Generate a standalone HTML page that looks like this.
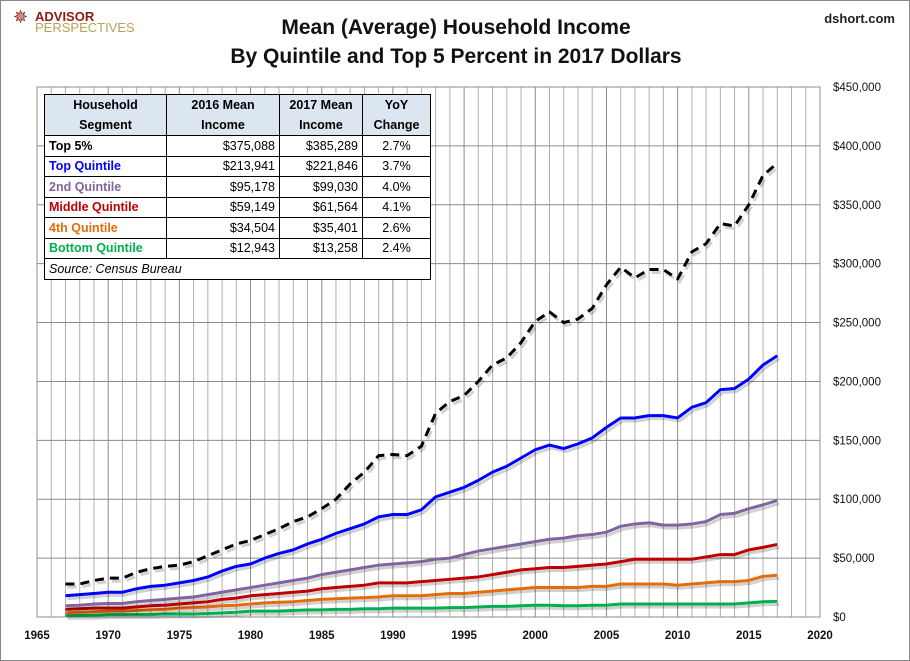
<!DOCTYPE html>
<html><head><meta charset="utf-8"><style>
body{margin:0;background:#fff;font-family:"Liberation Sans",sans-serif}
#wrap{position:relative;width:908px;height:659px;border:1px solid #888;overflow:hidden}
#title{position:absolute;left:200px;width:510px;top:12px;text-align:center;font-weight:bold;font-size:21px;line-height:29px;color:#111}
#logo{position:absolute;left:12px;top:10px;font-size:13px;line-height:12px}
#dshort{position:absolute;right:14px;top:10px;font-weight:bold;font-size:13px;color:#222}
table{position:absolute;left:43px;top:93px;border-collapse:collapse;font-size:12.5px;background:#fff}
td{border:1px solid #000;padding:0 4px;height:19.5px;white-space:nowrap}
th{background:#dce6f1;border:1px solid #000;font-weight:bold;font-size:12.5px;line-height:20px;padding:0 4px}
td.r{text-align:right}td.c{text-align:center}
</style></head><body>
<div id="wrap">
<div id="logo"><span style="color:#8b1a1a;font-size:18px">✵</span><span style="position:absolute;left:22px;top:0;color:#8b1a1a;font-weight:bold">ADVISOR</span><span style="position:absolute;left:22px;top:11px;color:#b8a15a">PERSPECTIVES</span></div>
<div id="title">Mean (Average) Household Income<br>By Quintile and Top 5 Percent in 2017 Dollars</div>
<div id="dshort">dshort.com</div>
<svg id="svg" width="910" height="661" style="position:absolute;left:0;top:0"></svg>
<table>
<tr><th style="width:113px">Household<br>Segment</th><th style="width:104px">2016 Mean<br>Income</th><th style="width:74px">2017 Mean<br>Income</th><th style="width:59px">YoY<br>Change</th></tr>
<tr><td style="font-weight:bold">Top 5%</td><td class="r">$375,088</td><td class="r">$385,289</td><td class="c">2.7%</td></tr>
<tr><td style="font-weight:bold;color:#0000ff">Top Quintile</td><td class="r">$213,941</td><td class="r">$221,846</td><td class="c">3.7%</td></tr>
<tr><td style="font-weight:bold;color:#8064a2">2nd Quintile</td><td class="r">$95,178</td><td class="r">$99,030</td><td class="c">4.0%</td></tr>
<tr><td style="font-weight:bold;color:#c00000">Middle Quintile</td><td class="r">$59,149</td><td class="r">$61,564</td><td class="c">4.1%</td></tr>
<tr><td style="font-weight:bold;color:#e46c0a">4th Quintile</td><td class="r">$34,504</td><td class="r">$35,401</td><td class="c">2.6%</td></tr>
<tr><td style="font-weight:bold;color:#00b050">Bottom Quintile</td><td class="r">$12,943</td><td class="r">$13,258</td><td class="c">2.4%</td></tr>
<tr><td colspan="4" style="font-style:italic">Source: Census Bureau</td></tr>
</table>
</div>
<script>
const years=[];for(let y=1967;y<=2017;y++)years.push(y);
const top5=[28,28,31,33,33,38,41,43,44,47,52,57,62,65,70,75,81,85,92,100,113,123,137,138,137,145,173,183,188,200,214,220,233,251,259,250,253,262,282,297,288,295,295,287,310,317,334,332,350,375,385.3];
const topQ=[18,19,20,21,21,24,26,27,29,31,34,39,43,45,50,54,57,62,66,71,75,79,85,87,87,91,102,106,110,116,123,128,135,142,146,143,147,152,161,169,169,171,171,169,178,182,193,194,202,214,221.8];
const q2=[9.5,10,11,11.5,11.5,13,14,15,16,17,19,21,23,25,27,29,31,33,36,38,40,42,44,45,46,47,49,50,53,56,58,60,62,64,66,67,69,70,72,77,79,80,78,78,79,81,87,88,92,95.2,99];
const mid=[6.5,7,7.5,7.5,7.5,8.5,9.5,10,11,12,13,15,16,18,19,20,21,22,24,25,26,27,29,29,29,30,31,32,33,34,36,38,40,41,42,42,43,44,45,47,49,49,49,49,49,51,53,53,57,59.1,61.6];
const q4=[3.5,4,4.5,5,5,5.5,6,6.5,7.5,8,8.5,9.5,10,11,12,12.5,13,14,15,15.5,16,16.5,17,18,18,18,19,20,20,21,22,23,24,25,25,25,25,26,26,28,28,28,28,27,28,29,30,30,31,34.5,35.4];
const bot=[1.5,1.5,1.5,2,2,2,2,2.5,2.5,2.5,3,3.5,4,5,5,5,5.5,6,6,6.5,6.5,7,7,7.5,7.5,7.5,7.5,8,8,8.5,9,9,9.5,10,10,9.5,9.5,10,10,11,11,11,11,11,11,11,11,11,12,12.9,13.3];
const yTicks=[0,50,100,150,200,250,300,350,400,450];
const xTicks=[1965,1970,1975,1980,1985,1990,1995,2000,2005,2010,2015,2020];
const X0=36,X1=819,Y0=616,Y1=86;
const xs=y=>X0+(y-1965)*(X1-X0)/55, ys=v=>Y0-v*(Y0-Y1)/450;
const svg=document.getElementById('svg'),NS='http://www.w3.org/2000/svg';
function mk(t,a,p){const e=document.createElementNS(NS,t);for(const k in a)e.setAttribute(k,a[k]);(p||svg).appendChild(e);return e;}
const g=mk('g',{});


for(let y=1965;y<=2020;y++){mk('line',{x1:xs(y),x2:xs(y),y1:Y1,y2:Y0,stroke:y%5==0?'#8c8c8c':'#b0b0b0','stroke-width':1},g);}
yTicks.forEach(v=>{mk('line',{x1:X0,x2:X1,y1:ys(v),y2:ys(v),stroke:'#8c8c8c','stroke-width':1},g);
const t=mk('text',{x:832,y:ys(v)+4,'font-size':'11.5',fill:'#111'});t.textContent='$'+(v?v+',000':'0');

});
mk('rect',{x:X0,y:Y1,width:X1-X0,height:Y0-Y1,fill:'none',stroke:'#8c8c8c'});
xTicks.forEach(y=>{const t=mk('text',{x:xs(y),y:638,'font-size':'11.5','font-weight':'bold','text-anchor':'middle',fill:'#111'});t.textContent=y;

});
const series=[[bot,'#00b050','bottom-quintile-line'],[q4,'#e46c0a','fourth-quintile-line'],[mid,'#c00000','middle-quintile-line'],[q2,'#8064a2','second-quintile-line'],[topQ,'#0000ff','top-quintile-line'],[top5,'#000','top-5-percent-line']];
series.forEach(([d,c,n])=>{const pts=d.map((v,i)=>xs(years[i])+','+ys(v)).join(' ');
mk('polyline',{points:pts,fill:'none',stroke:'rgba(0,0,0,0.18)','stroke-width':3,transform:'translate(2,3)','stroke-dasharray':c=='#000'?'9,6':'none'});
const p=mk('polyline',{points:pts,fill:'none',stroke:c,'stroke-width':3,'stroke-linejoin':'round','stroke-dasharray':c=='#000'?'9,6':'none'});

});
</script>
</body></html>
